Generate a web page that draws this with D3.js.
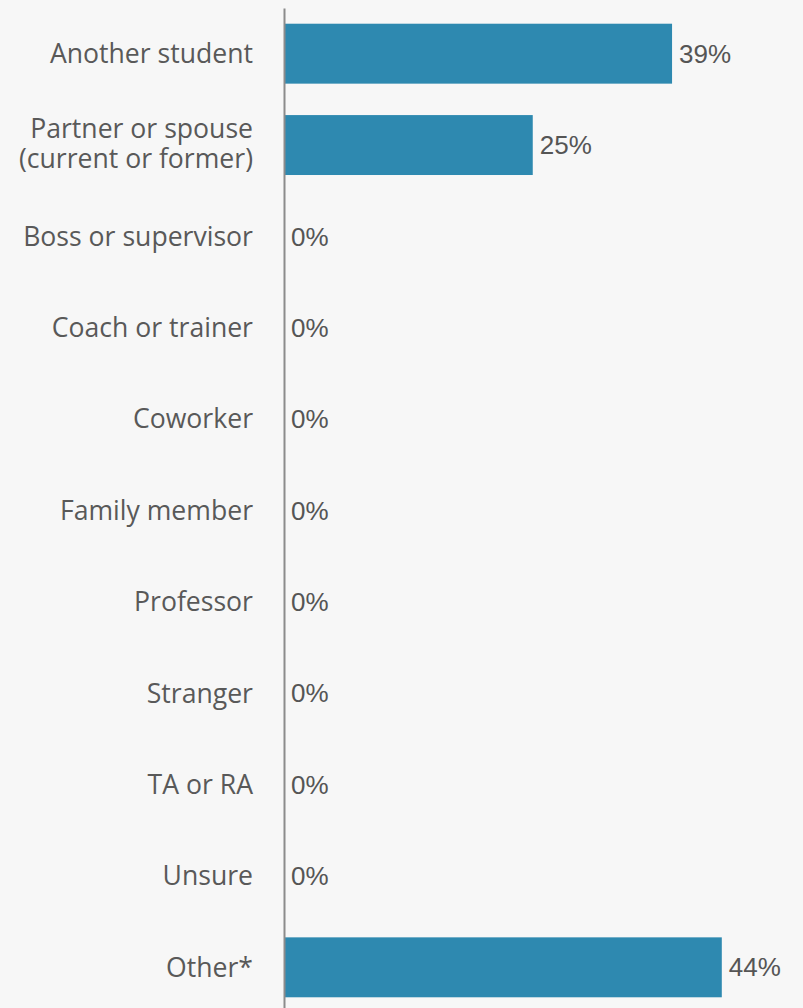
<!DOCTYPE html>
<html>
<head>
<meta charset="utf-8">
<script src="https://cdn.jsdelivr.net/npm/d3@7"></script>
<style>
  html, body { margin: 0; padding: 0; background: #f7f7f7; }
  svg { display: block; }
  .y-axis text { font-family: "Open Sans", sans-serif; font-size: 26.6px; fill: #595959; }
  .y-axis path { stroke: #8c8c8c; stroke-width: 2; }
  .value-label { font-family: "Liberation Sans", Arial, sans-serif; font-size: 26px; fill: #555; }
</style>
</head>
<body>
<svg id="chart"></svg>
<script>
const categories = ['Another student', 'Partner or spouse\n(current or former)', 'Boss or supervisor',
  'Coach or trainer', 'Coworker', 'Family member', 'Professor', 'Stranger', 'TA or RA', 'Unsure', 'Other*'];
const values = [39, 25, 0, 0, 0, 0, 0, 0, 0, 0, 44];

const width = 803, height = 1008;
const margin = {top: 8, right: 0, bottom: -5, left: 284};

const svg = d3.select('#chart').attr('width', width).attr('height', height);

const data = categories.map((c, i) => ({cat: c, value: values[i]}));

// Bar length per percent (~9.95px per %)
const x = d3.scaleLinear().domain([0, 100]).range([margin.left, margin.left + 995]);
const y = d3.scaleBand().domain(categories)
  .range([margin.top, height - margin.bottom])
  .paddingInner(0.344).paddingOuter(0.172);

svg.selectAll('.bar')
  .data(data)
  .join('rect')
  .attr('class', 'bar')
  .attr('x', x(0) + 1)
  .attr('y', d => y(d.cat))
  .attr('width', d => Math.max(0, x(d.value) - x(0) - 1))
  .attr('height', y.bandwidth())
  .attr('fill', '#2e89b0');

const yAxisG = svg.append('g')
  .attr('class', 'y-axis')
  .attr('transform', `translate(${x(0)},0)`)
  .call(d3.axisLeft(y).tickSize(0).tickSizeOuter(0).tickPadding(31));

// split two-line labels into tspans
yAxisG.selectAll('.tick text').each(function(d) {
  const lines = d.split('\n');
  const t = d3.select(this).text(null).attr('dy', null);
  lines.forEach((line, i) => {
    t.append('tspan')
      .attr('x', -31)
      .attr('dy', i === 0 ? `${0.35 - (lines.length - 1) * 0.62}em` : '1.13em')
      .text(line);
  });
});

svg.selectAll('.value-label')
  .data(data)
  .join('text')
  .attr('class', 'value-label')
  .attr('x', d => x(d.value) + 7)
  .attr('y', d => y(d.cat) + y.bandwidth() / 2)
  .attr('dy', '0.35em')
  .text(d => d.value + '%');
</script>
</body>
</html>
